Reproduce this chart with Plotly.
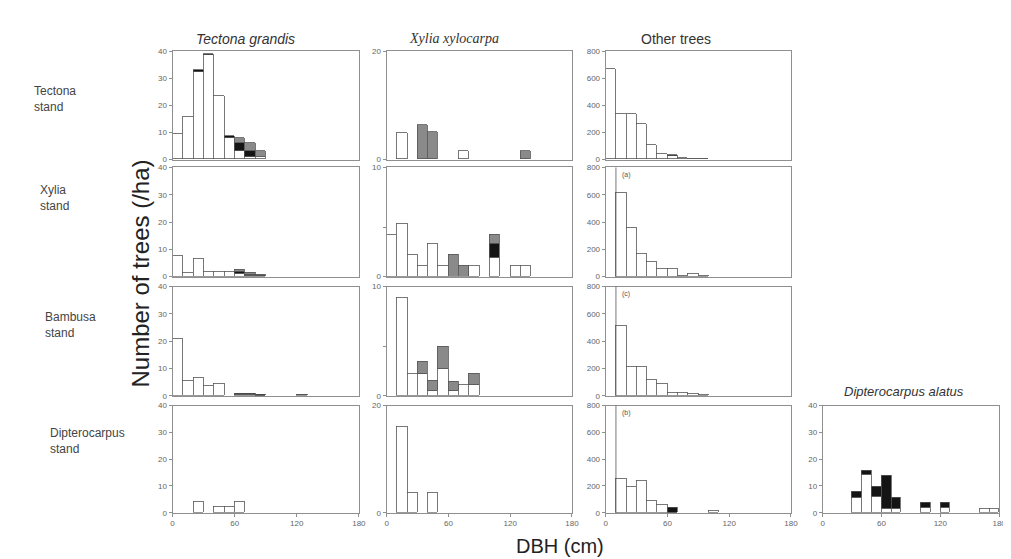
import plotly.graph_objects as go

# ---------------- data (trees / ha per 10-cm DBH class) ----------------
BIN_LEFT = list(range(0, 180, 10))
BIN_MID = [b + 5 for b in BIN_LEFT]

# Tectona stand
tec_tec_white = [9.5, 15.6, 32.3, 38.4, 23.2, 7.9, 3.0, 1.0, 1.0, 0, 0, 0, 0, 0, 0, 0, 0, 0]
tec_tec_black = [0, 0, 0.6, 0.6, 0, 0.8, 3.0, 2.0, 0, 0, 0, 0, 0, 0, 0, 0, 0, 0]
tec_tec_gray = [0, 0, 0, 0, 0, 0, 1.8, 3.0, 2.1, 0, 0, 0, 0, 0, 0, 0, 0, 0]
tec_xyl_white = [0, 4.8, 0, 0, 0, 0, 0, 1.5, 0, 0, 0, 0, 0, 0, 0, 0, 0, 0]
tec_xyl_gray = [0, 0, 0, 6.4, 5.0, 0, 0, 0, 0, 0, 0, 0, 0, 1.5, 0, 0, 0, 0]
tec_oth_white = [668, 338, 338, 257, 103, 37, 22, 10, 5, 3, 0, 0, 0, 0, 0, 0, 0, 0]
tec_oth_black = [0, 0, 0, 0, 0, 0, 8, 0, 0, 0, 0, 0, 0, 0, 0, 0, 0, 0]

# Xylia stand
xyl_tec_white = [7.6, 1.5, 6.8, 2.0, 2.0, 2.0, 1.0, 0.3, 0.3, 0, 0, 0, 0, 0, 0, 0, 0, 0]
xyl_tec_black = [0, 0, 0, 0, 0, 0, 1.0, 0.6, 0.3, 0, 0, 0, 0, 0, 0, 0, 0, 0]
xyl_tec_gray = [0, 0, 0, 0, 0, 0, 0.5, 0.5, 0.3, 0, 0, 0, 0, 0, 0, 0, 0, 0]
xyl_xyl_white = [3.9, 4.9, 2.0, 1.0, 3.0, 1.0, 0, 0, 1.0, 0, 1.8, 0, 1.0, 1.0, 0, 0, 0, 0]
xyl_xyl_black = [0, 0, 0, 0, 0, 0, 0, 0, 0, 0, 1.2, 0, 0, 0, 0, 0, 0, 0]
xyl_xyl_gray = [0, 0, 0, 0, 0, 0, 2.0, 1.0, 0, 0, 0.9, 0, 0, 0, 0, 0, 0, 0]
xyl_oth_white = [0, 614, 364, 173, 114, 61, 61, 10, 20, 10, 0, 0, 0, 0, 0, 0, 0, 0]

# Bambusa stand
bam_tec_white = [20.9, 5.4, 6.6, 3.7, 4.5, 0, 0.3, 0.3, 0.2, 0, 0, 0, 0.3, 0, 0, 0, 0, 0]
bam_tec_black = [0, 0, 0, 0, 0, 0, 0.5, 0.5, 0.3, 0, 0, 0, 0, 0, 0, 0, 0, 0]
bam_tec_gray = [0, 0, 0, 0, 0, 0, 0, 0, 0, 0, 0, 0, 0.3, 0, 0, 0, 0, 0]
bam_xyl_white = [0, 9.0, 2.0, 2.0, 0.5, 2.5, 0.5, 1.0, 1.0, 0, 0, 0, 0, 0, 0, 0, 0, 0]
bam_xyl_gray = [0, 0, 0, 1.1, 0.9, 2.0, 0.8, 0, 1.0, 0, 0, 0, 0, 0, 0, 0, 0, 0]
bam_oth_white = [0, 511, 211, 211, 120, 91, 20, 20, 15, 10, 0, 0, 0, 0, 0, 0, 0, 0]

# Dipterocarpus stand
dip_tec_white = [0, 0, 4.3, 0, 2.2, 2.2, 4.3, 0, 0, 0, 0, 0, 0, 0, 0, 0, 0, 0]
dip_xyl_white = [0, 16.0, 3.8, 0, 3.8, 0, 0, 0, 0, 0, 0, 0, 0, 0, 0, 0, 0, 0]
dip_oth_white = [0, 256, 195, 239, 88, 63, 5, 0, 0, 0, 15, 0, 0, 0, 0, 0, 0, 0]
dip_oth_black = [0, 0, 0, 0, 0, 0, 32, 0, 0, 0, 0, 0, 0, 0, 0, 0, 0, 0]
dip_dal_white = [0, 0, 0, 5.6, 14.1, 5.9, 1.6, 1.6, 0, 0, 1.8, 0, 1.8, 0, 0, 0, 1.6, 1.6]
dip_dal_black = [0, 0, 0, 2.4, 1.8, 3.9, 12.2, 4.0, 0, 0, 1.9, 0, 1.9, 0, 0, 0, 0, 0]

COL_TITLES = ["Tectona grandis", "Xylia xylocarpa", "Other trees"]
ROW_TITLES = ["Tectona<br>stand", "Xylia<br>stand", "Bambusa<br>stand", "Dipterocarpus<br>stand"]
X_TICKS = [0, 60, 120, 180]
Y_TICKS_COL1 = [0, 10, 20, 30, 40]
Y_TICKS_COL3 = [0, 200, 400, 600, 800]
PANEL_MARKS = ["(a)", "(c)", "(b)"]

# ---------------- layout geometry (pixels) ----------------
W, H = 1011, 559
COLS_PX = [(164, 352), (380, 567), (601, 788), (820, 998)]
ROWS_PX = [(40, 150), (158, 269), (279, 390), (400, 509)]

LINE = "#8f8f8f"
EDGE = "#555555"
TXT = "#444444"
FONT = "Liberation Sans"

def xd(a, b):
    return [a / W, b / W]

def yd(t, b):
    return [1 - b / H, 1 - t / H]

panels = [
    # (row, col, white, black, gray, yrange, ytickvals, yticktext)
    (0, 0, tec_tec_white, tec_tec_black, tec_tec_gray, 40, Y_TICKS_COL1, None),
    (0, 1, tec_xyl_white, None, tec_xyl_gray, 20, [0, 20], None),
    (0, 2, tec_oth_white, tec_oth_black, None, 800, Y_TICKS_COL3, None),
    (1, 0, xyl_tec_white, xyl_tec_black, xyl_tec_gray, 40, Y_TICKS_COL1, None),
    (1, 1, xyl_xyl_white, xyl_xyl_black, xyl_xyl_gray, 10, [0, 4.5, 10], ["0", "", "10"]),
    (1, 2, xyl_oth_white, None, None, 800, Y_TICKS_COL3, None),
    (2, 0, bam_tec_white, bam_tec_black, bam_tec_gray, 40, Y_TICKS_COL1, None),
    (2, 1, bam_xyl_white, None, bam_xyl_gray, 10, [0, 4.5, 10], ["0", "", "10"]),
    (2, 2, bam_oth_white, None, None, 800, Y_TICKS_COL3, None),
    (3, 0, dip_tec_white, None, None, 40, Y_TICKS_COL1, None),
    (3, 1, dip_xyl_white, None, None, 20, [0, 20], None),
    (3, 2, dip_oth_white, dip_oth_black, None, 800, Y_TICKS_COL3, None),
    (3, 3, dip_dal_white, dip_dal_black, None, 40, Y_TICKS_COL1, None),
]

fig = go.Figure()
layout = dict(
    width=W, height=H, autosize=False,
    margin=dict(l=0, r=0, t=0, b=0),
    paper_bgcolor="white", plot_bgcolor="white",
    barmode="stack", bargap=0, showlegend=False,
    font=dict(family=FONT, color=TXT),
)
shapes = []
annotations = []

for k, (r, c, white, black, gray, ytop, ytv, ytt) in enumerate(panels, start=1):
    xa = "x" if k == 1 else f"x{k}"
    ya = "y" if k == 1 else f"y{k}"
    for vals, color in ((white, "white"), (black, "#141414"), (gray, "#8a8a8a")):
        if vals is None:
            continue
        fig.add_trace(go.Bar(
            x=BIN_MID, y=[v if v else None for v in vals], width=10,
            marker=dict(color=color, line=dict(color=EDGE, width=0.8)),
            xaxis=xa, yaxis=ya, hoverinfo="x+y",
        ))
    bottom = (r == 3)
    layout["xaxis" if k == 1 else f"xaxis{k}"] = dict(
        domain=xd(*COLS_PX[c]), anchor=ya, range=[0, 180],
        showline=True, mirror=True, linecolor=LINE, linewidth=1,
        showgrid=False, zeroline=False,
        tickvals=X_TICKS, showticklabels=bottom,
        ticks="outside" if bottom else "", ticklen=3, tickcolor=LINE,
        tickfont=dict(size=8, color="#666666"),
    )
    ydict = dict(
        domain=yd(*ROWS_PX[r]), anchor=xa, range=[0, ytop],
        showline=True, mirror=True, linecolor=LINE, linewidth=1,
        showgrid=False, zeroline=False,
        tickvals=ytv, ticks="outside", ticklen=3, tickcolor=LINE,
        tickfont=dict(size=8, color="#666666"),
    )
    if ytt is not None:
        ydict["ticktext"] = ytt
    layout["yaxis" if k == 1 else f"yaxis{k}"] = ydict
    # vertical reference line and panel mark in "Other trees" panels
    if c == 2 and r > 0:
        shapes.append(dict(type="line", xref=xa, yref=f"{ya} domain",
                           x0=10, x1=10, y0=0, y1=1,
                           line=dict(color=EDGE, width=0.8)))
        annotations.append(dict(xref=xa, yref=f"{ya} domain", x=14, y=0.93,
                                text=PANEL_MARKS[r - 1], showarrow=False,
                                xanchor="left", yanchor="middle",
                                font=dict(size=7, color="#555555")))

# column titles
title_x = [238, 448, 672]
for i, t in enumerate(COL_TITLES):
    italic = i < 2
    annotations.append(dict(
        xref="paper", yref="paper", x=title_x[i] / W, y=1 - 27 / H,
        xanchor="center", yanchor="middle",
        text=f"<i>{t}</i>" if italic else t, showarrow=False,
        font=dict(size=14, color="#333333",
                  family="Liberation Serif" if i == 1 else FONT),
    ))
annotations.append(dict(
    xref="paper", yref="paper", x=902 / W, y=1 - 386 / H,
    xanchor="center", yanchor="middle",
    text="<i>Dipterocarpus alatus</i>", showarrow=False,
    font=dict(size=13, color="#333333"),
))

# row titles
row_y = [88, 189, 318, 436]
row_x = [22, 28, 33, 38]
for i, t in enumerate(ROW_TITLES):
    annotations.append(dict(
        xref="paper", yref="paper", x=row_x[i] / W, y=1 - row_y[i] / H,
        text=t, showarrow=False, xanchor="left", yanchor="middle", align="left",
        font=dict(size=12, color="#444444"),
    ))

# axis titles
annotations.append(dict(
    xref="paper", yref="paper", x=132 / W, y=1 - 266 / H,
    xanchor="center", yanchor="middle",
    text="Number of trees (/ha)", textangle=-90, showarrow=False,
    font=dict(size=24, color="#222222"),
))
annotations.append(dict(
    xref="paper", yref="paper", x=555 / W, y=1 - 543 / H,
    xanchor="center", yanchor="middle",
    text="DBH (cm)", showarrow=False,
    font=dict(size=20, color="#222222"),
))

layout["shapes"] = shapes
layout["annotations"] = annotations
fig.update_layout(**layout)
fig.write_html("out.html")
